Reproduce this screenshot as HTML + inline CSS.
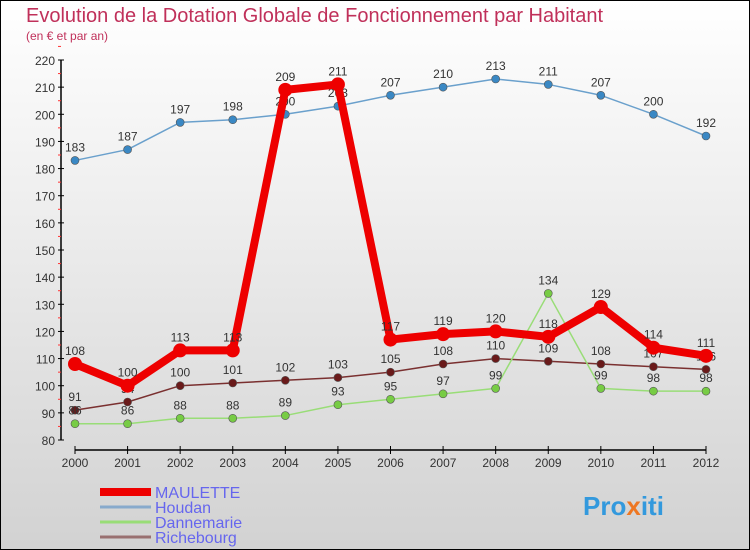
<!DOCTYPE html>
<html><head><meta charset="utf-8"><style>
body{margin:0}
#c{width:750px;height:550px;position:relative;box-sizing:border-box;border:1px solid #000;background:linear-gradient(#ffffff,#d2d2d2);font-family:"Liberation Sans",sans-serif;overflow:hidden}
</style></head><body>
<div id="c">
<svg id="s" width="750" height="550" style="position:absolute;left:-1px;top:-1px" font-family="Liberation Sans, sans-serif">
<text x="26" y="22" font-size="20" fill="#c0305a">Evolution de la Dotation Globale de Fonctionnement par Habitant</text>
<text x="26" y="40" font-size="12" fill="#c0305a">(en € et par an)</text>
<g id="axes"></g><g id="series"></g><g id="legend"></g>
<text x="583" y="515" font-size="26" font-weight="bold" fill="#3399dd">Pro<tspan fill="#ee7722">x</tspan><tspan fill="#3399dd">iti</tspan></text>
</svg>
</div>
<script>
const years=[2000,2001,2002,2003,2004,2005,2006,2007,2008,2009,2010,2011,2012];
const maulette=[108,100,113,113,209,211,117,119,120,118,129,114,111];
const houdan=[183,187,197,198,200,203,207,210,213,211,207,200,192];
const dannemarie=[86,86,88,88,89,93,95,97,99,134,99,98,98];
const richebourg=[91,94,100,101,102,103,105,108,110,109,108,107,106];
const yTicks=[80,90,100,110,120,130,140,150,160,170,180,190,200,210,220];
const NS="http://www.w3.org/2000/svg";
function X(i){return 75+i*(706-75)/(years.length-1);}
function Y(v){return 440-(v-80)*380/140;}
function mk(p,t,a){const e=document.createElementNS(NS,t);for(const k in a)e.setAttribute(k,a[k]);p.appendChild(e);return e;}
const ax=document.getElementById('axes');
let l=mk(ax,'line',{x1:61,y1:60,x2:61,y2:440,stroke:'#000','stroke-width':1.5});


yTicks.forEach(v=>{
 mk(ax,'line',{x1:58,x2:64,y1:Y(v),y2:Y(v),stroke:'#000'});
 mk(ax,'line',{x1:58,x2:61,y1:Y(v+5),y2:Y(v+5),stroke:'#f33'});
 const t=mk(ax,'text',{x:55,y:Y(v)+5,'text-anchor':'end','font-size':12,fill:'#333'});t.textContent=v;
 
 
});
l=mk(ax,'line',{x1:75,y1:450,x2:706,y2:450,stroke:'#000','stroke-width':1.5});


years.forEach((y,i)=>{
 mk(ax,'line',{x1:X(i),x2:X(i),y1:446,y2:454,stroke:'#000'});
 const t=mk(ax,'text',{x:X(i),y:467,'text-anchor':'middle','font-size':12,fill:'#333'});t.textContent=y;
 
 
});
const sg=document.getElementById('series');
const defs=[
 {name:'richebourg',d:richebourg,c:'#7a3030',w:1.5,r:4,f:'#6a1a1a'},
 {name:'dannemarie',d:dannemarie,c:'#99dd77',w:1.5,r:4,f:'#77cc44'},
 {name:'houdan',d:houdan,c:'#6aa0cc',w:1.5,r:4,f:'#3a88c4'},
 {name:'maulette',d:maulette,c:'#ee0000',w:8,r:7,f:'#ee0000'}];
defs.forEach(s=>{
 const g=mk(sg,'g',{});
 
 
 mk(g,'polyline',{points:s.d.map((v,i)=>X(i)+','+Y(v)).join(' '),fill:'none',stroke:s.c,'stroke-width':s.w,'stroke-linejoin':'round'});
 s.d.forEach((v,i)=>{
  const c=mk(g,'circle',{cx:X(i),cy:Y(v),r:s.r,fill:s.f,stroke:'#555','stroke-width':s.w>2?0:0.6});
  
  
  const t=mk(g,'text',{x:X(i),y:Y(v)-9,'text-anchor':'middle','font-size':12,fill:'#333'});t.textContent=v;
  
  
 });
});
const lg=document.getElementById('legend');
[['MAULETTE','#ee0000',8],['Houdan','#88aacc',3],['Dannemarie','#99dd77',3],['Richebourg','#997070',3]].forEach((e,i)=>{
 const y=492+i*15;
 const g=mk(lg,'g',{});
 
 
 mk(g,'line',{x1:100,x2:151,y1:y,y2:y,stroke:e[1],'stroke-width':e[2]});
 const t=mk(g,'text',{x:155,y:y+6,'font-size':16,fill:'#6666ee'});t.textContent=e[0];
});
</script>
</body></html>
